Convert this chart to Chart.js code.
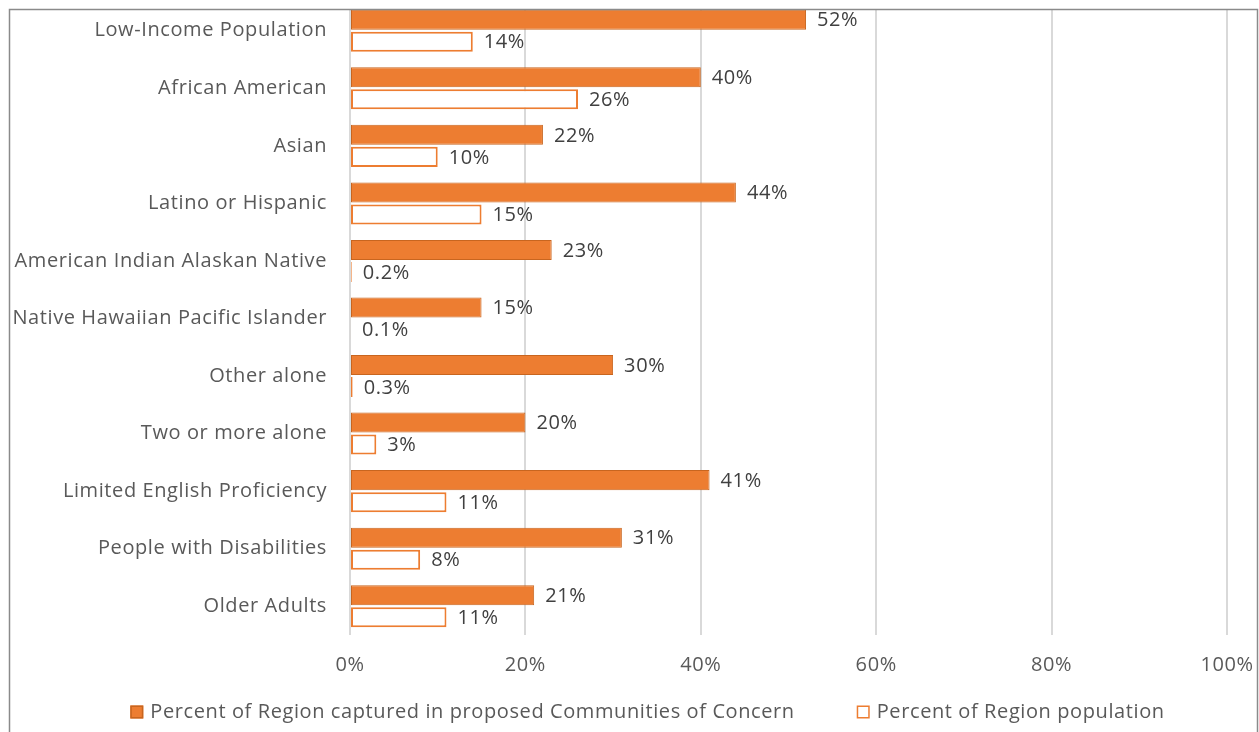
<!DOCTYPE html>
<html>
<head>
<meta charset="utf-8">
<script src="https://cdn.jsdelivr.net/npm/chart.js@4.4.0/dist/chart.umd.min.js"></script>
<style>
  html, body { margin: 0; padding: 0; background: #fff; }
  #wrap { position: relative; width: 1259px; height: 732px; }
</style>
</head>
<body>
<div id="wrap"><canvas id="chart"></canvas></div>
<script>
// Chart data
const categories = [
  'Low-Income Population',
  'African American',
  'Asian',
  'Latino or Hispanic',
  'American Indian Alaskan Native',
  'Native Hawaiian Pacific Islander',
  'Other alone',
  'Two or more alone',
  'Limited English Proficiency',
  'People with Disabilities',
  'Older Adults'
];
const capturedPct = [52, 40, 22, 44, 23, 15, 30, 20, 41, 31, 21];
const populationPct = [14, 26, 10, 15, 0.2, 0.1, 0.3, 3, 11, 8, 11];
const seriesNames = [
  'Percent of Region captured in proposed Communities of Concern',
  'Percent of Region population'
];
const xTickValues = [0, 20, 40, 60, 80, 100];

const FONT = '"Open Sans", sans-serif';
const FONT_SIZE = 20;
const SPACING = '0.6px';
const fmt = v => (v < 1 ? v.toFixed(1) : Math.round(v)) + '%';

// slightly wider letter spacing, closer to the reference's text widths
const spacing = {
  id: 'spacing',
  beforeUpdate(chart) { chart.ctx.letterSpacing = SPACING; },
  beforeDraw(chart) { chart.ctx.letterSpacing = SPACING; }
};

// value labels at the end of each bar
const valueLabels = {
  id: 'valueLabels',
  afterDatasetsDraw(chart) {
    const ctx = chart.ctx;
    ctx.save();
    ctx.font = FONT_SIZE + 'px ' + FONT;
    ctx.fillStyle = '#404040';
    ctx.textAlign = 'left';
    ctx.textBaseline = 'middle';
    chart.data.datasets.forEach((ds, i) => {
      chart.getDatasetMeta(i).data.forEach((bar, j) => {
        ctx.fillText(fmt(ds.data[j]), bar.x + 11, bar.y + 1);
      });
    });
    ctx.restore();
  }
};

// legend under the axis + outer frame
const legendAndFrame = {
  id: 'legendAndFrame',
  afterDraw(chart) {
    const ctx = chart.ctx;
    ctx.save();
    ctx.font = FONT_SIZE + 'px ' + FONT;
    const box = 13, gapText = 7, gapItem = 62;
    const items = chart.data.datasets.map(ds => ({
      ds, w: box + gapText + ctx.measureText(ds.label).width
    }));
    const total = items.reduce((s, it) => s + it.w, 0) + gapItem * (items.length - 1);
    let x = chart.width / 2 + 18 - total / 2;
    const y = 712;
    items.forEach(it => {
      ctx.fillStyle = it.ds.backgroundColor;
      ctx.fillRect(x, y - box / 2, box, box);
      ctx.strokeStyle = it.ds.borderColor;
      ctx.lineWidth = 1.5;
      ctx.strokeRect(x + 0.75, y - box / 2 + 0.75, box - 1.5, box - 1.5);
      ctx.fillStyle = '#595959';
      ctx.textAlign = 'left';
      ctx.textBaseline = 'middle';
      ctx.fillText(it.ds.label, x + box + gapText, y);
      x += it.w + gapItem;
    });

    // frame (top strip above it is blank in the reference)
    ctx.fillStyle = '#fff';
    ctx.fillRect(0, 0, chart.width, 9);
    ctx.strokeStyle = '#8a8a8a';
    ctx.lineWidth = 1.5;
    ctx.strokeRect(9.5, 9.5, chart.width - 11, chart.height + 20);
    ctx.restore();
  }
};

new Chart(document.getElementById('chart'), {
  type: 'bar',
  data: {
    labels: categories,
    datasets: [
      {
        label: seriesNames[0],
        data: capturedPct,
        backgroundColor: '#ED7D31',
        borderColor: '#C8651F',
        borderWidth: 1,
        borderSkipped: false
      },
      {
        label: seriesNames[1],
        data: populationPct,
        backgroundColor: '#ffffff',
        borderColor: '#ED7D31',
        borderWidth: 2,
        borderSkipped: false
      }
    ]
  },
  options: {
    indexAxis: 'y',
    responsive: true,
    maintainAspectRatio: false,
    animation: false,
    devicePixelRatio: 1,
    categoryPercentage: 0.765,
    barPercentage: 0.91,
    layout: { padding: { left: 0, right: 32, top: 2, bottom: 0 } },
    plugins: {
      legend: { display: false },
      tooltip: { enabled: false }
    },
    scales: {
      x: {
        min: 0,
        max: 100,
        afterBuildTicks: scale => { scale.ticks = xTickValues.map(v => ({ value: v })); },
        afterFit: scale => {
          scale.height = 97;
          scale.paddingLeft = 0;
          scale.paddingRight = 0;
        },
        grid: { color: '#d9d9d9', lineWidth: 2, drawTicks: false },
        border: { display: false },
        ticks: {
          padding: 18,
          color: '#595959',
          font: { family: FONT, size: FONT_SIZE },
          callback: v => v + '%'
        }
      },
      y: {
        afterFit: scale => {
          scale.width = 350;
          scale.paddingTop = 0;
          scale.paddingBottom = 0;
        },
        grid: { display: false, drawTicks: false },
        border: { display: false },
        ticks: {
          padding: 23,
          color: '#595959',
          font: { family: FONT, size: FONT_SIZE }
        }
      }
    }
  },
  plugins: [spacing, valueLabels, legendAndFrame]
});
</script>
</body>
</html>
